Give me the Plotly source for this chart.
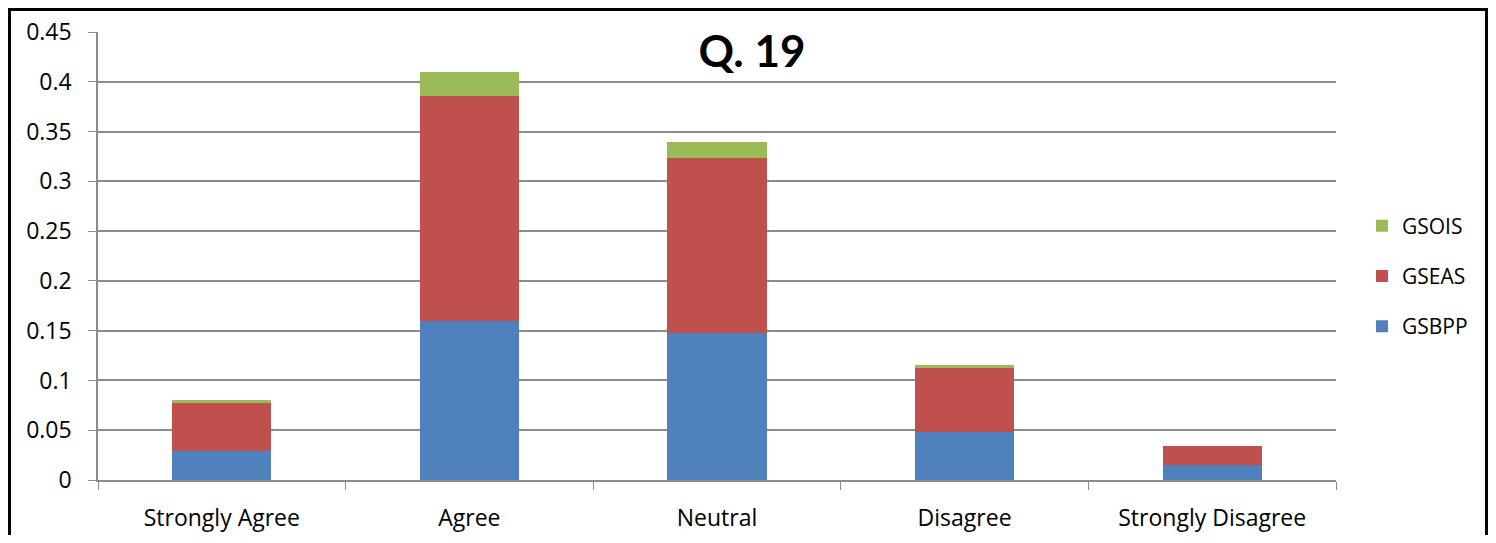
import plotly.graph_objects as go

categories = ["Strongly Agree", "Agree", "Neutral", "Disagree", "Strongly Disagree"]
gsbpp = [0.029, 0.160, 0.148, 0.0485, 0.0147]
gseas = [0.048, 0.226, 0.175, 0.0645, 0.0191]
gsois = [0.003, 0.024, 0.017, 0.0025, 0.0]

# page body has an 8px margin, so the figure is drawn 8px in from the window edge
OFF = 8
W, H = 1496 - 2 * OFF, 543 - 2 * OFF
L, T = 98 - OFF, 32 - OFF
pw, ph = 1238, 448
R, B = W - L - pw, H - T - ph

fig = go.Figure()
fig.add_trace(go.Bar(x=categories, y=gsbpp, name="GSBPP", marker_color="#4f81bd",
                     legendgroup="a", legendrank=3))
fig.add_trace(go.Bar(x=categories, y=gseas, name="GSEAS", marker_color="#c0504d",
                     legendgroup="b", legendrank=2))
fig.add_trace(go.Bar(x=categories, y=gsois, name="GSOIS", marker_color="#9bbb59",
                     legendgroup="c", legendrank=1))
fig.update_traces(marker_line_width=0)

# outer chart border (bottom edge falls below the page)
fig.add_shape(type="rect", xref="paper", yref="paper",
              x0=(1.5 - L) / pw, x1=(W - 1.5 - L) / pw,
              y0=-(B + 10) / ph, y1=(H - 1.5 - B) / ph,
              line=dict(color="black", width=3), layer="above")

fig.update_layout(
    width=W, height=H,
    barmode="stack", bargap=0.6,
    margin=dict(l=L, r=R, t=T, b=B, autoexpand=False),
    plot_bgcolor="white", paper_bgcolor="white",
    font=dict(family="Open Sans, Lato, sans-serif", size=23, color="black"),
    title=dict(text="<b>Q. 19</b>", x=(752 - 98) / pw, xref="paper", xanchor="center",
               y=(H - (52 - OFF)) / H, yanchor="middle",
               font=dict(size=44, family="Lato, Open Sans, sans-serif")),
    legend=dict(traceorder="grouped", tracegroupgap=20,
                x=(1362 - 98) / pw, y=(480 - 276) / ph, xanchor="left", yanchor="middle",
                font=dict(size=21), itemwidth=30),
    showlegend=True,
)
fig.update_yaxes(range=[0, 0.45], dtick=0.05, tickformat="~g", showgrid=True,
                 gridcolor="#8c8c8c", gridwidth=1.5, showline=True, linecolor="#8c8c8c",
                 linewidth=1.5, ticks="outside", ticklen=8, tickcolor="#8c8c8c",
                 zeroline=False, ticklabelstandoff=12, automargin=False)
fig.update_xaxes(showline=True, linecolor="#8c8c8c", linewidth=2, ticks="outside",
                 ticklen=8, tickcolor="#8c8c8c", tickson="boundaries", showgrid=False,
                 ticklabelstandoff=16, automargin=False)

fig.write_html("out.html")
